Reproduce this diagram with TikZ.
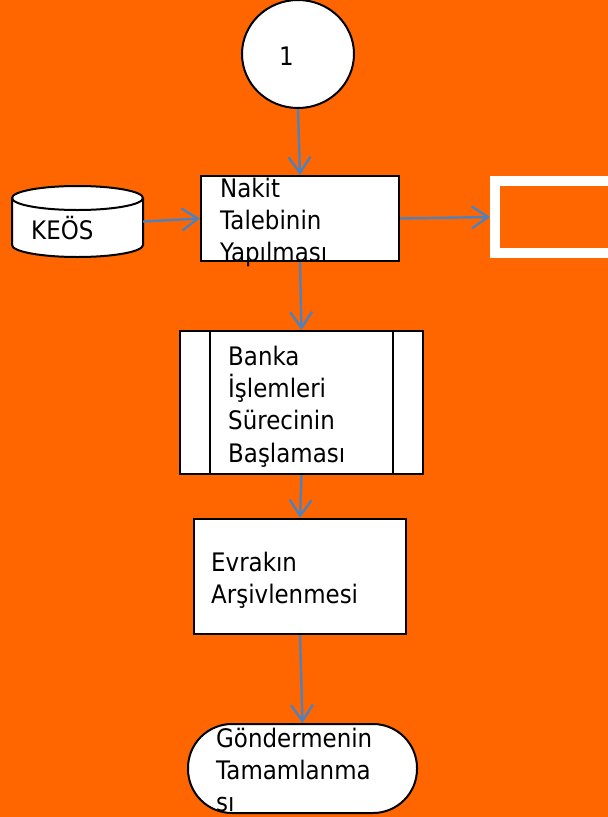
\documentclass[tikz,border=0pt]{standalone}
\usepackage{fontspec}
\setmainfont{DejaVu Sans}[FakeStretch=0.9]
\usetikzlibrary{arrows.meta,shapes.geometric}
\definecolor{bgorange}{HTML}{FF6600}
\definecolor{flowblue}{HTML}{4F81BD}
\begin{document}
\begin{tikzpicture}[x=1pt,y=-1pt,
  box/.style={draw=black,line width=2pt,fill=white,inner sep=0pt},
  flow/.style={draw=flowblue,line width=2.4pt,-{Straight Barb[length=16pt,width=22pt]}},
  txt/.style={inner sep=0pt,anchor=north west,align=left,font=\fontsize{25.5}{32.3}\selectfont},
  onetxt/.style={inner sep=0pt,anchor=base west,font=\fontsize{25.5}{32.3}\selectfont}]
\fill[bgorange] (0,0) rectangle (608,817);
\useasboundingbox (0,0) rectangle (608,817);
% shapes
\node[box,ellipse,minimum width=112pt,minimum height=108pt] (start) at (298,54) {};
\node[box,minimum width=198pt,minimum height=85pt] (nakit) at (300,218.5) {};
\node[box,minimum width=243pt,minimum height=143pt] (banka) at (301.5,402.5) {};
\draw[black,line width=2pt] ([xshift=31pt]banka.north west) -- ([xshift=31pt]banka.south west);
\draw[black,line width=2pt] ([xshift=-31pt]banka.north east) -- ([xshift=-31pt]banka.south east);
\node[box,minimum width=212pt,minimum height=115pt] (evrak) at (300,576.5) {};
\node[box,rounded corners=44pt,minimum width=229pt,minimum height=89pt] (gonder) at (302.5,768.5) {};
\node[draw=white,line width=10pt,minimum width=130pt,minimum height=72pt,inner sep=0pt] (outbox) at (560,217) {};
% cylinder KEOS
\node[inner sep=0pt,minimum width=131pt,minimum height=71pt] (keos) at (77.5,221.5) {};
\filldraw[fill=white,draw=black,line width=2pt]
  (12,198) -- (12,245) arc[start angle=180,end angle=360,x radius=65.5pt,y radius=12pt]
  -- (143,198) arc[start angle=0,end angle=180,x radius=65.5pt,y radius=12pt] -- cycle;
\draw[black,line width=2pt] (12,198) arc[start angle=180,end angle=360,x radius=65.5pt,y radius=12pt];
% connectors
\draw[flow] (start.south) -- (nakit.north);
\draw[flow] (keos.east) -- (nakit.west);
\draw[flow] (nakit.east) -- (outbox.west);
\draw[flow] (nakit.south) -- (banka.north);
\draw[flow] (banka.south) -- (evrak.north);
\draw[flow] (evrak.south) -- (gonder.north);
% texts
\node[onetxt] (t1) at (279,65) {1};
\node[onetxt] (tkeos) at (31,239) {KEÖS};
\node[txt] (tnakit) at (220,177) {\rule{0pt}{20pt}Nakit\\Talebinin\\Yapılması};
\node[txt] (tbanka) at (228,345) {\rule{0pt}{20pt}Banka\\İşlemleri\\Sürecinin\\Başlaması};
\node[txt] (tevrak) at (211,551) {\rule{0pt}{20pt}Evrakın\\Arşivlenmesi};
\node[txt] (tgonder) at (216,727) {\rule{0pt}{20pt}Göndermenin\\Tamamlanma\\sı};
\end{tikzpicture}
\end{document}
